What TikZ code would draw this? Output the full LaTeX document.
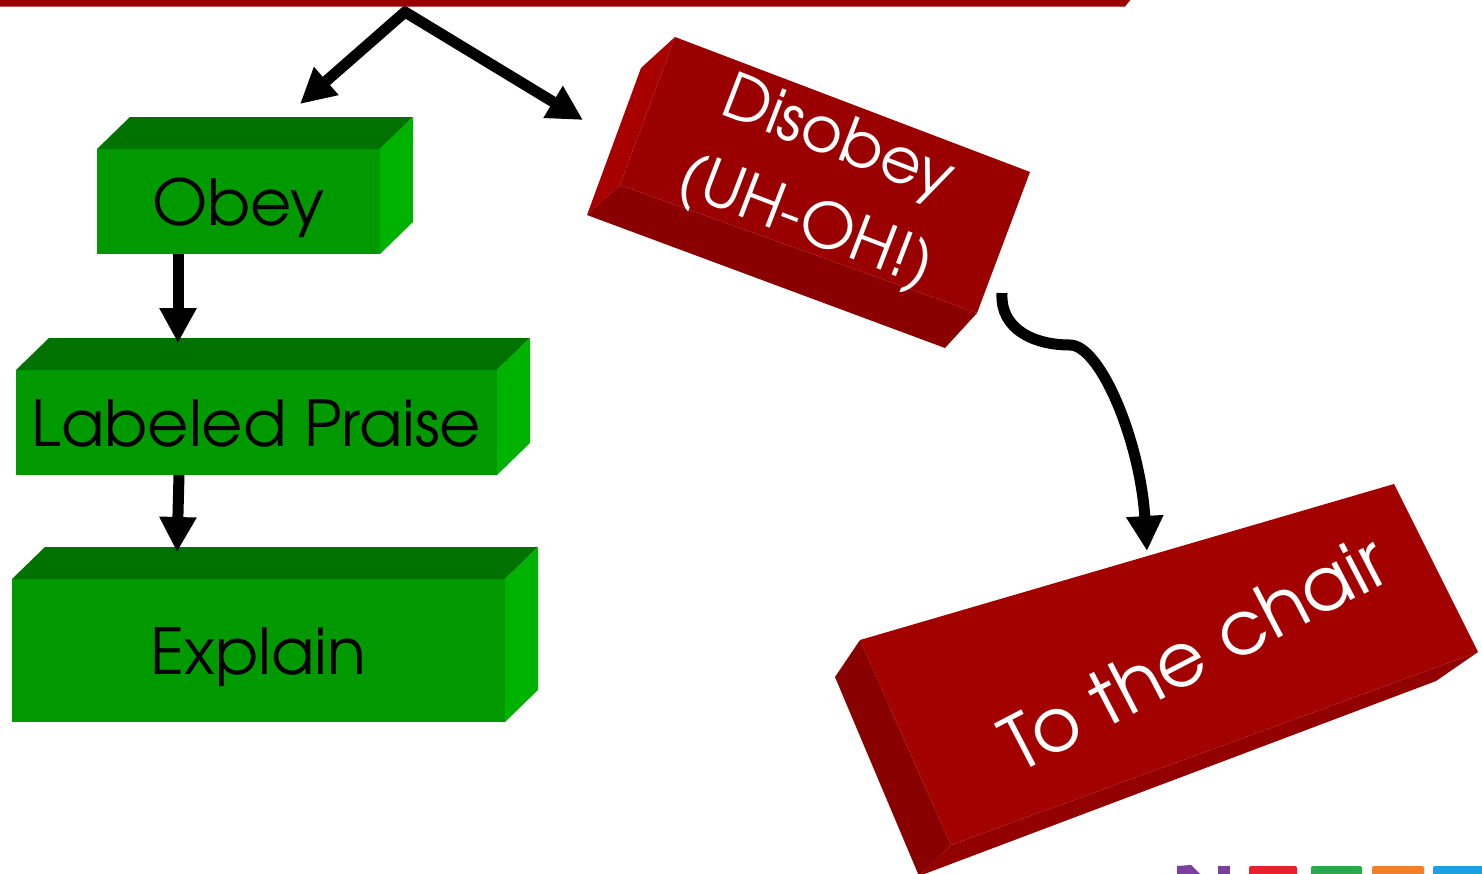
\documentclass[tikz,border=0pt]{standalone}
\usepackage{fontspec}
\newfontfamily\gothic{texgyreadventor-regular.otf}
\usetikzlibrary{arrows.meta}

\definecolor{barred}{HTML}{990000}
\definecolor{gfront}{HTML}{009900}
\definecolor{gtop}{HTML}{007200}
\definecolor{gside}{HTML}{00B200}
\definecolor{rfront}{HTML}{9A0000}
\definecolor{rlight}{HTML}{A80000}
\definecolor{rdark}{HTML}{8A0000}
\definecolor{cfront}{HTML}{A30000}
\definecolor{cleft}{HTML}{880000}
\definecolor{cbottom}{HTML}{930000}
\definecolor{logopurple}{HTML}{7B3F9E}
\definecolor{logored}{HTML}{E8202A}
\definecolor{logogreen}{HTML}{2BA84A}
\definecolor{logoorange}{HTML}{F0812A}
\definecolor{logoblue}{HTML}{1BA1E2}

\tikzset{
  gbox/.style={fill=gfront, inner sep=0pt, outer sep=0pt, anchor=north west,
    text=black, text height=47pt, text depth=0pt,
    font=\gothic\fontsize{63.5}{70}\selectfont},
  rtext/.style={text=white, inner sep=0pt, align=center},
  conn/.style={line width=11pt, draw=black},
  bighead/.tip={Triangle[length=35pt,width=35pt]},
}

\begin{document}
\begin{tikzpicture}[x=1pt, y=-1pt, line join=miter]
\useasboundingbox (0,0) rectangle (1482,873);

% ---- green (obey) column ----
\node[gbox, minimum width=283pt, minimum height=105pt] (obey) at (97,149) {Obey};
\node[gbox, minimum width=481pt, minimum height=105pt] (praise) at (16,370) {Labeled Praise};
\node[gbox, minimum width=493pt, minimum height=143pt] (explain) at (12,579) {Explain};

\foreach \b in {obey,praise,explain}{
  \fill[gtop] (\b.north west) -- ++(33,-32) -- ([shift={(33,-32)}]\b.north east) -- (\b.north east) -- cycle;
  \fill[gside] (\b.north east) -- ++(33,-32) -- ([shift={(33,-32)}]\b.south east) -- (\b.south east) -- cycle;
}

% ---- red (disobey) block ----
\fill[rlight] (641,68) -- (675,37) -- (620,185) -- (587,215) -- cycle;
\fill[rdark] (587,215) -- (620,185) -- (977,313) -- (945,348) -- cycle;
\fill[rfront] (675,37) -- (1030,172) -- (977,313) -- (620,185) -- cycle;
\node[rtext, rotate=-21, font=\gothic\fontsize{63}{88}\selectfont] (disobey) at (821,183) {Disobey\\(UH-OH!)};

% ---- red (chair) block ----
\fill[cleft] (860,640) -- (835,677) -- (919,876) -- (951,845) -- cycle;
\fill[cbottom] (951,845) -- (1478,652) -- (1436,681) -- (919,876) -- cycle;
\fill[cfront] (860,640) -- (1394,484) -- (1478,652) -- (951,845) -- cycle;
\node[rtext, rotate=27.5, font=\gothic\fontsize{75}{80}\selectfont] (chair) at (1194,652) {To the chair};

% ---- connectors ----
\coordinate (apex) at (405,12);
\coordinate (obeyIn) at (300,104);
\coordinate (disIn) at (583,120);
\coordinate (praiseIn) at (178,343);
\coordinate (explainIn) at (177,552);
\coordinate (disOut) at (1002,293);
\coordinate (chairIn) at (1147,551);

\draw[conn, {bighead}-{bighead}] (obeyIn) -- (apex) -- (disIn);
\draw[conn, -{bighead}] (obey.south -| praiseIn) -- (praiseIn);
\draw[conn, -{bighead}] ([xshift=2pt]praise.south -| explainIn) -- (explainIn);
\draw[conn, -{bighead}] (disOut) .. controls (1000,330) and (1035,345) .. (1070,345)
  .. controls (1100,345) and (1140,440) .. (chairIn);

% ---- title bar ----
\fill[barred] (0,-2) -- (1132,-2) -- (1125,6.5) -- (0,6.5) -- cycle;

% ---- logo strip ----
\fill[logopurple] (1177,866) -- (1191,865) -- (1200,874) -- (1177,874) -- cycle;
\fill[logopurple] (1218,866) -- (1230,866) -- (1230,874) -- (1218,874) -- cycle;
\fill[logored, rounded corners=2pt] (1249,866) rectangle (1297,880);
\fill[logogreen, rounded corners=2pt] (1311,866) rectangle (1362,880);
\fill[logoorange, rounded corners=2pt] (1372,866) rectangle (1424,880);
\fill[logoblue, rounded corners=2pt] (1433,866) rectangle (1490,880);
\end{tikzpicture}
\end{document}
